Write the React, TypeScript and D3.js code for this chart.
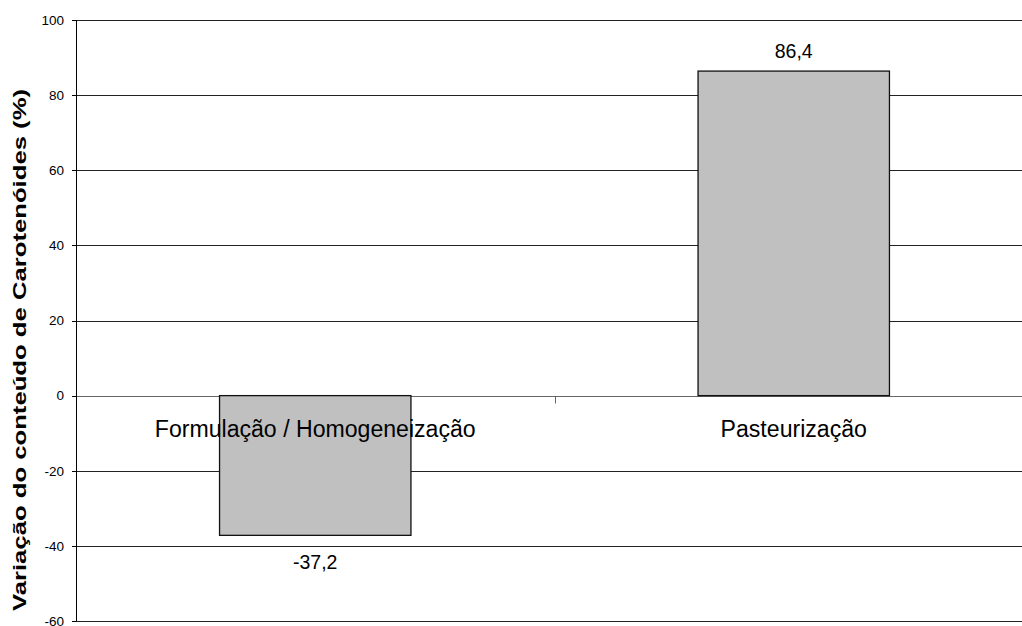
import React from "react";
import * as d3 from "d3";

// Stage names and the measured change in carotenoid content (%)
const categories = ["Formulação / Homogeneização", "Pasteurização"];
const values = [-37.2, 86.4];
const valueLabels = ["-37,2", "86,4"];
const yTicks = [-60, -40, -20, 0, 20, 40, 60, 80, 100];
const yTitle = "Variação do conteúdo de Carotenóides (%)";

const W = 1022;
const H = 626;
const FONT = "'Liberation Sans', Arial, Helvetica, sans-serif";

export default function App() {
  const x = d3.scaleBand<string>().domain(categories).range([76, 1033]).padding(0);
  const y = d3.scaleLinear().domain([-60, 100]).range([621, 20]);
  const barW = x.bandwidth() * 0.4;
  const plotLeft = 76;
  const gridRight = W;

  return (
    <svg
      width={W}
      height={H}
      style={{ position: "absolute", left: 0, top: 0, background: "#fff" }}
      fontFamily={FONT}
    >
      {/* horizontal gridlines */}
      {yTicks.map((t) => (
        <line
          key={"g" + t}
          x1={plotLeft}
          x2={gridRight}
          y1={Math.round(y(t)) + 0.5}
          y2={Math.round(y(t)) + 0.5}
          stroke={t === 0 ? "#666" : "#222"}
          strokeWidth={1}
        />
      ))}

      {/* bars */}
      {values.map((v, i) => {
        const cx = (x(categories[i]) as number) + x.bandwidth() / 2;
        const y0 = y(0);
        const y1 = y(v);
        return (
          <rect
            key={"b" + i}
            x={cx - barW / 2}
            y={Math.min(y0, y1)}
            width={barW}
            height={Math.abs(y1 - y0)}
            fill="#c0c0c0"
            stroke="#111"
            strokeWidth={1.3}
          />
        );
      })}

      {/* category axis ticks on the zero line */}
      {[...categories.map((c) => x(c) as number), 1033].map((px, i) => (
        <line
          key={"xt" + i}
          x1={Math.round(px) + 0.5}
          x2={Math.round(px) + 0.5}
          y1={Math.round(y(0)) + 0.5}
          y2={Math.round(y(0)) + 7.5}
          stroke="#666"
          strokeWidth={1}
        />
      ))}

      {/* y axis */}
      <line x1={76.5} x2={76.5} y1={y(100)} y2={y(-60) + 0.5} stroke="#000" strokeWidth={1} />
      {yTicks.map((t) => (
        <g key={"t" + t}>
          <line
            x1={72}
            x2={76}
            y1={Math.round(y(t)) + 0.5}
            y2={Math.round(y(t)) + 0.5}
            stroke="#000"
            strokeWidth={1}
          />
          <text
            x={64}
            y={y(t)}
            dy="0.36em"
            textAnchor="end"
            fontSize={13.5}
            fill="#000"
          >
            {t}
          </text>
        </g>
      ))}

      {/* category labels */}
      {categories.map((c) => (
        <text
          key={"c" + c}
          x={(x(c) as number) + x.bandwidth() / 2}
          y={437}
          textAnchor="middle"
          fontSize={23.1}
          fill="#000"
        >
          {c}
        </text>
      ))}

      {/* value labels */}
      {values.map((v, i) => {
        const cx = (x(categories[i]) as number) + x.bandwidth() / 2;
        const ly = v >= 0 ? y(v) - 13 : y(v) + 34;
        return (
          <text key={"v" + i} x={cx} y={ly} textAnchor="middle" fontSize={19.5} fill="#000">
            {valueLabels[i]}
          </text>
        );
      })}

      {/* y axis title */}
      <text
        transform={`translate(25.5, 350) rotate(-90)`}
        textAnchor="middle"
        fontSize={18.5}
        fontWeight="bold"
        fill="#000"
        textLength={522}
        lengthAdjust="spacingAndGlyphs"
      >
        {yTitle}
      </text>
    </svg>
  );
}
